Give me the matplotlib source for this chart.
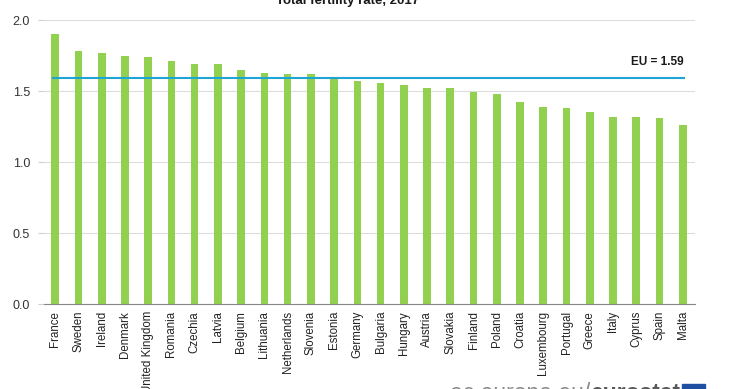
import matplotlib.pyplot as plt

# Total fertility rate, 2017 (Eurostat)
countries = ['France', 'Sweden', 'Ireland', 'Denmark', 'United Kingdom', 'Romania',
             'Czechia', 'Latvia', 'Belgium', 'Lithuania', 'Netherlands', 'Slovenia',
             'Estonia', 'Germany', 'Bulgaria', 'Hungary', 'Austria', 'Slovakia',
             'Finland', 'Poland', 'Croatia', 'Luxembourg', 'Portugal', 'Greece',
             'Italy', 'Cyprus', 'Spain', 'Malta']
rates = [1.90, 1.78, 1.77, 1.75, 1.74, 1.71, 1.69, 1.69, 1.65, 1.63, 1.62, 1.62,
         1.59, 1.57, 1.56, 1.54, 1.52, 1.52, 1.49, 1.48, 1.42, 1.39, 1.38, 1.35,
         1.32, 1.32, 1.31, 1.26]
eu_value = 1.59
yticks = [0.0, 0.5, 1.0, 1.5, 2.0]

plt.rcParams['font.family'] = ['Liberation Sans', 'DejaVu Sans']

fig = plt.figure(figsize=(7.4, 3.89), dpi=100)
ax = fig.add_axes([0.0595, 0.2185, 0.8795, 0.73])

x = list(range(len(countries)))
ax.bar(x, rates, width=0.33, color='#92d050', zorder=3)

# EU average line
ax.plot([-0.1, len(countries) - 0.95], [eu_value, eu_value], color='#1ea5d6', lw=1.5, zorder=4)
ax.text(len(countries) - 0.97, 1.66, f'EU = {eu_value}', ha='right', va='bottom',
        fontsize=8.5, fontweight='bold', color='#1a1a1a')

ax.set_xlim(-0.48, len(countries) - 0.48)
ax.set_ylim(0, 2.0)
ax.set_yticks(yticks)
ax.set_yticklabels([f'{v:.1f}' for v in yticks], fontsize=9, color='#333333')
ax.set_xticks(x)
ax.set_xticklabels(countries, rotation=90, fontsize=8.3, color='#222222')
ax.tick_params(axis='x', length=0, pad=5)
ax.tick_params(axis='y', length=4, color='#d0d0d0', pad=6)

ax.grid(axis='y', color='#dcdcdc', lw=0.8, zorder=0)
ax.set_axisbelow(True)
for side in ['left', 'right', 'top']:
    ax.spines[side].set_visible(False)
ax.spines['bottom'].set_color('#888888')
ax.spines['bottom'].set_zorder(5)

# title (partly cut off at the top, as in the source)
fig.text(348 / 740, 0.997, 'Total fertility rate, 2017', ha='center', va='center',
         fontsize=9.5, fontweight='bold', color='#1a1a1a')

# eurostat footer, cut off at the bottom
t1 = fig.text(450 / 740, 0.019, 'ec.europa.eu/', ha='left', va='top', fontsize=16.5, color='#8a8a8a')
fig.canvas.draw()
bb = t1.get_window_extent()
fig.text(bb.x1 / fig.bbox.width, 0.019, 'eurostat', ha='left', va='top', fontsize=16.5,
         fontweight='bold', color='#5a5a5a')
fig.patches.append(plt.Rectangle((682 / 740, 0.0), 23 / 740, 0.012,
                                 transform=fig.transFigure, color='#1f4fa0'))

fig.savefig('out.png', dpi=100)
